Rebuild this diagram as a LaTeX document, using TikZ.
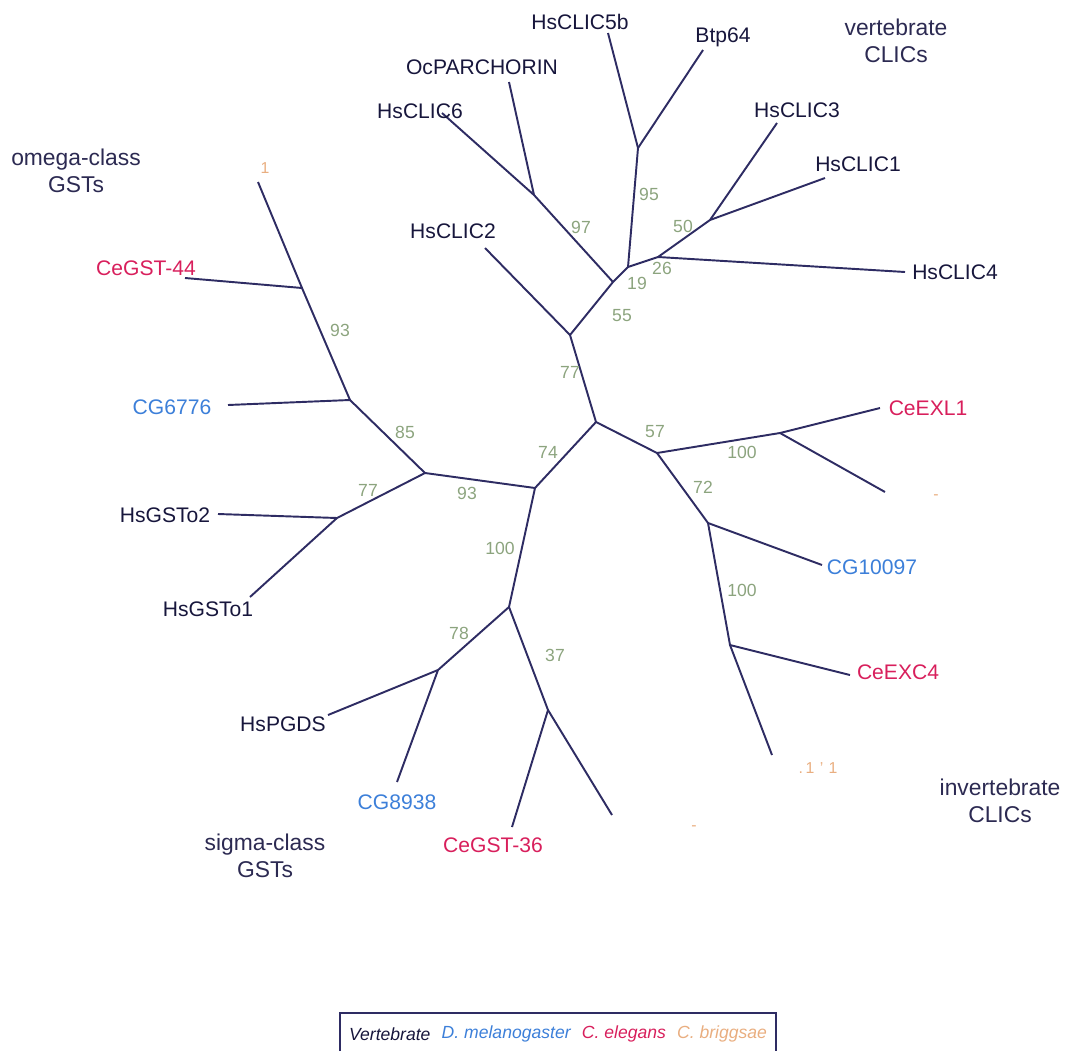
\documentclass[tikz,border=0pt]{standalone}
\usepackage{fontspec}
\setmainfont{Liberation Sans}
\usetikzlibrary{positioning}
\definecolor{trline}{HTML}{2E2C63}
\definecolor{trvert}{HTML}{17163C}
\definecolor{trdmel}{HTML}{3C7FD9}
\definecolor{trcele}{HTML}{D81F5C}
\definecolor{trcbri}{HTML}{E9AE80}
\definecolor{trboot}{HTML}{8CA47E}
\definecolor{trnote}{HTML}{2C2A52}

\begin{document}
\begin{tikzpicture}[x=0.02cm,y=-0.02cm,node distance=4pt,
  br/.style={draw=trline,line width=1.1pt},
  lf/.style={font=\fontsize{12}{14}\selectfont,inner sep=1pt,text=trvert},
  dm/.style={lf,text=trdmel},ce/.style={lf,text=trcele},cb/.style={lf,text=trcbri,font=\fontsize{9}{10}\selectfont},
  bs/.style={text=trboot,font=\fontsize{10}{12}\selectfont,inner sep=1pt},
  grp/.style={text=trnote,align=center,font=\fontsize{13}{15}\selectfont},
  key/.style={font=\fontsize{10}{12}\selectfont\itshape,inner sep=1pt}]
\useasboundingbox (0,0) rectangle (1074,1051);
% inner nodes of the tree
\coordinate (root) at (596,422);
\coordinate (cl) at (570,335);\coordinate (c19) at (613,282);\coordinate (c26) at (628,267);\coordinate (c97) at (534,195);
\coordinate (c95) at (638,148);\coordinate (c50) at (658,257);\coordinate (c3) at (710,220);
\coordinate (e57) at (657,453);\coordinate (e100) at (780,433);\coordinate (e72) at (708,523);\coordinate (e4) at (730,645);
\coordinate (g74) at (535,488);\coordinate (g93) at (425,473);\coordinate (g85) at (350,400);\coordinate (go) at (302,288);
\coordinate (g77) at (337,518);\coordinate (g100) at (509,607);\coordinate (g78) at (438,670);\coordinate (g37) at (548,710);
% leaf tips
\coordinate (t5b) at (608,33);\coordinate (tbtp) at (703,50);\coordinate (tpar) at (509,82);\coordinate (t6) at (442,113);
\coordinate (t2) at (485,248);\coordinate (t4) at (905,272);\coordinate (t3) at (777,123);\coordinate (t1) at (825,178);
\coordinate (texl) at (880,408);\coordinate (tb1) at (885,492);\coordinate (tcg1) at (822,565);\coordinate (texc) at (850,675);\coordinate (tb2) at (772,755);
\coordinate (tcg6) at (228,405);\coordinate (tg44) at (185,278);\coordinate (tb3) at (258,182);\coordinate (to2) at (218,514);\coordinate (to1) at (250,597);
\coordinate (tpg) at (328,715);\coordinate (tcg8) at (397,782);\coordinate (tg36) at (512,827);\coordinate (tb4) at (612,815);
% branches
\draw[br] (root) -- (cl) -- (c19) -- (c26) -- (c95) -- (t5b);\draw[br] (c95) -- (tbtp);
\draw[br] (cl) -- (t2);\draw[br] (c19) -- (c97) -- (t6);\draw[br] (c97) -- (tpar);
\draw[br] (c26) -- (c50) -- (t4);\draw[br] (c50) -- (c3) -- (t3);\draw[br] (c3) -- (t1);
\draw[br] (root) -- (e57) -- (e100) -- (texl);\draw[br] (e100) -- (tb1);
\draw[br] (e57) -- (e72) -- (tcg1);\draw[br] (e72) -- (e4) -- (texc);\draw[br] (e4) -- (tb2);
\draw[br] (root) -- (g74) -- (g93) -- (g85) -- (tcg6);\draw[br] (g85) -- (go) -- (tg44);\draw[br] (go) -- (tb3);
\draw[br] (g93) -- (g77) -- (to2);\draw[br] (g77) -- (to1);
\draw[br] (g74) -- (g100) -- (g78) -- (tpg);\draw[br] (g78) -- (tcg8);\draw[br] (g100) -- (g37) -- (tg36);\draw[br] (g37) -- (tb4);
% leaf labels
\node[lf] (l5b) at (580,22) {HsCLIC5b};\node[lf] (lbtp) at (723,37) {Btp64};\node[lf] (lpar) at (482,67) {OcPARCHORIN};
\node[lf] (l6) at (420,111) {HsCLIC6};\node[lf] (l2) at (453,231) {HsCLIC2};\node[lf] (l4) at (955,272) {HsCLIC4};
\node[lf] (l3) at (797,110) {HsCLIC3};\node[lf] (l1) at (858,164) {HsCLIC1};
\node[ce] (lexl) at (928,408) {CeEXL1};\node[dm] (lcg1) at (872,567) {CG10097};\node[ce] (lexc) at (898,672) {CeEXC4};
\node[dm] (lcg6) at (172,407) {CG6776};\node[ce] (lg44) at (146,268) {CeGST-44};\node[lf] (lo2) at (165,515) {HsGSTo2};\node[lf] (lo1) at (208,609) {HsGSTo1};
\node[lf] (lpg) at (283,724) {HsPGDS};\node[dm] (lcg8) at (397,802) {CG8938};\node[ce] (lg36) at (493,845) {CeGST-36};
\node[cb] (lb3) at (265,168) {1};\node[cb] (lb2) at (818,768) {.\,1\,\,'\,\,1};\node[cb] (lb1) at (936,497) {-};\node[cb] (lb4) at (694,828) {-};
% bootstrap values
\node[bs] (v77) at (570,372) {77};\node[bs] (v55) at (622,316) {55};\node[bs] (v19) at (637,283) {19};\node[bs] (v26) at (662,268) {26};
\node[bs] (v97) at (581,227) {97};\node[bs] (v95) at (649,194) {95};\node[bs] (v50) at (683,226) {50};
\node[bs] (v57) at (655,432) {57};\node[bs] (v100a) at (742,452) {100};\node[bs] (v72) at (703,487) {72};\node[bs] (v100b) at (742,590) {100};
\node[bs] (v74) at (548,452) {74};\node[bs] (v93a) at (467,493) {93};\node[bs] (v85) at (405,432) {85};\node[bs] (v93b) at (340,330) {93};
\node[bs] (v77b) at (368,490) {77};\node[bs] (v100c) at (500,548) {100};\node[bs] (v78) at (459,633) {78};\node[bs] (v37) at (555,655) {37};
% groups
\node[grp] (gom) at (76,171) {omega-class\\GSTs};\node[grp] (gvc) at (896,41) {vertebrate\\CLICs};
\node[grp] (gsg) at (265,856) {sigma-class\\GSTs};\node[grp] (gic) at (1000,801) {invertebrate\\CLICs};
% key
\draw[trline,line width=0.6pt] (340,1051) -- (340,1013) -- (776,1013) -- (776,1051);
\node[key,text=trvert,anchor=west] (kv) at (347,1034) {Vertebrate};
\node[key,text=trdmel,right=of kv] (kd) {D. melanogaster};
\node[key,text=trcele,right=of kd] (kc) {C. elegans};
\node[key,text=trcbri,right=of kc] (kb) {C. briggsae};
\end{tikzpicture}
\end{document}
